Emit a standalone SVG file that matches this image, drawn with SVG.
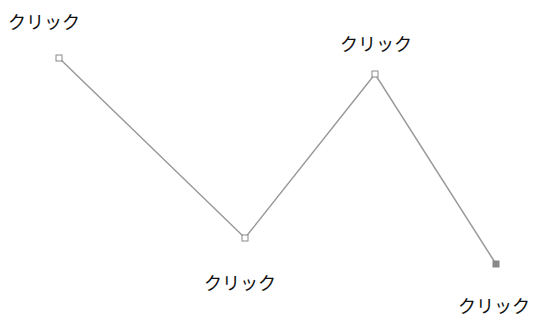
<svg xmlns="http://www.w3.org/2000/svg" width="542" height="320" viewBox="0 0 542 320">
<style>
.lbl{font-family:"Noto Sans CJK JP",sans-serif;font-size:18px;fill:#111}
.ln{stroke:#999;stroke-width:1.5;fill:none}
.pt{fill:#fff;stroke:#888;stroke-width:1}
.end{fill:#888;stroke:#888;stroke-width:1}
</style>
<rect width="542" height="320" fill="#fff"/>
<g id="connectors">
<polyline class="ln" points="59,58 245,238 375,74 496,264"/>
</g>
<g id="p1"><rect class="pt" x="56" y="55" width="6" height="6"/><text class="lbl" x="8" y="29">クリック</text></g>
<g id="p2"><rect class="pt" x="242" y="235" width="6" height="6"/><text class="lbl" x="204" y="290">クリック</text></g>
<g id="p3"><rect class="pt" x="372" y="71" width="6" height="6"/><text class="lbl" x="340" y="51">クリック</text></g>
<g id="p4"><rect class="end" x="493" y="261" width="6" height="6"/><text class="lbl" x="458" y="313">クリック</text></g>
</svg>
